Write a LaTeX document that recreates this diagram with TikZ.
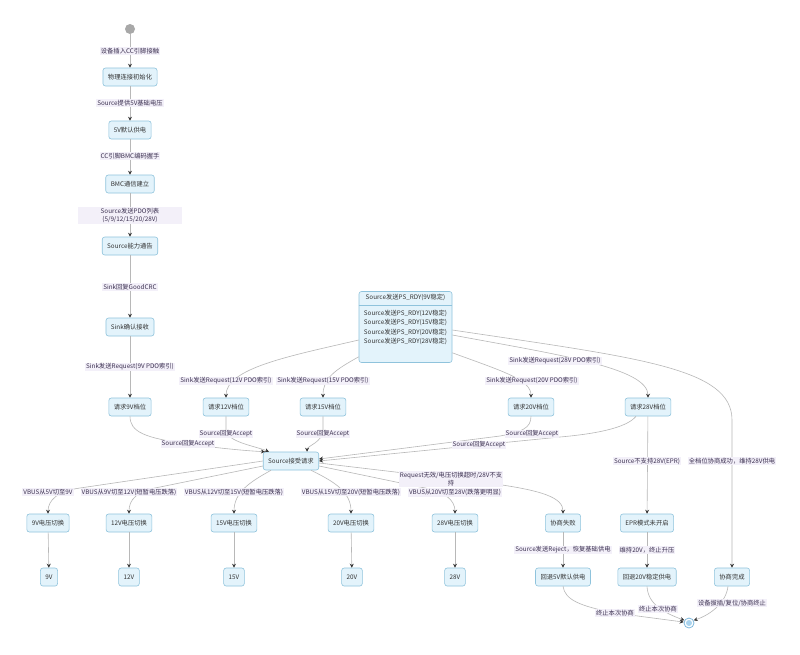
\documentclass[tikz,border=0pt]{standalone}
\usepackage{fontspec}
\setmainfont{Noto Sans CJK SC}
\usetikzlibrary{arrows.meta}
\definecolor{nodefill}{HTML}{E3F3FB}
\definecolor{nodeborder}{HTML}{8FC3DC}
\definecolor{textc}{HTML}{333333}
\definecolor{lblfill}{HTML}{F3F0F9}
\definecolor{lbltext}{HTML}{3B3050}
\definecolor{edgec}{HTML}{B8B8B8}
\definecolor{arrowc}{HTML}{333333}
\definecolor{startc}{HTML}{A8A8A8}
\definecolor{endborder}{HTML}{7DB8DC}
\definecolor{endfill}{HTML}{A9D3EE}
\begin{document}
\begin{tikzpicture}[x=1pt,y=-1pt,
  state/.style={draw=nodeborder, fill=nodefill, rounded corners=2.5pt, line width=0.6pt,
    minimum height=18pt, inner xsep=5pt, inner ysep=2pt, font=\fontsize{6.3}{7.5}\selectfont, text=textc},
  lbl/.style={fill=lblfill, inner sep=1pt, font=\fontsize{6.3}{8.5}\selectfont, text=lbltext, align=center},
  edge/.style={draw=edgec, line width=0.6pt, -{Stealth[length=4pt,width=4pt,color=arrowc]}},
]
\fill[white] (0,0) rectangle (800,654);
\useasboundingbox (0,0) rectangle (800,654);

% nodes
\node[circle, fill=startc, minimum size=10pt, inner sep=0pt] (start) at (130,29) {};
\node[state] (n1) at (130,77) {物理连接初始化};
\node[state] (n2) at (130,130) {5V默认供电};
\node[state] (n3) at (130,184) {BMC通信建立};
\node[state] (n4) at (130,246) {Source能力通告};
\node[state] (n5) at (130,327) {Sink确认接收};
\node[state] (r9) at (130,407) {请求9V档位};
\node[state] (r12) at (226,407) {请求12V档位};
\node[state] (r15) at (323,407) {请求15V档位};
\node[state] (r20) at (531,407) {请求20V档位};
\node[state] (r28) at (648,407) {请求28V档位};
\node[state, minimum width=93pt, minimum height=71pt] (ps) at (405.5,327) {};
\node[font=\fontsize{6.3}{7.5}\selectfont, text=textc] (psh) at (405.5,297) {Source发送PS\_RDY(9V稳定)};
\draw[nodeborder, line width=0.6pt] (ps.west |- 0,305) -- (ps.east |- 0,305);
\node[font=\fontsize{6.3}{9.2}\selectfont, text=textc, align=left] (psb) at (405.5,327.5)
  {Source发送PS\_RDY(12V稳定)\\Source发送PS\_RDY(15V稳定)\\Source发送PS\_RDY(20V稳定)\\Source发送PS\_RDY(28V稳定)};
\node[state] (acc) at (291,461) {Source接受请求};
\node[state] (s9) at (48,523) {9V电压切换};
\node[state] (s12) at (129,523) {12V电压切换};
\node[state] (s15) at (234,523) {15V电压切换};
\node[state] (s20) at (351,523) {20V电压切换};
\node[state] (s28) at (455,523) {28V电压切换};
\node[state] (fail) at (563,523) {协商失败};
\node[state] (epr) at (647,523) {EPR模式未开启};
\node[state] (v9) at (49,577) {9V};
\node[state] (v12) at (129,577) {12V};
\node[state] (v15) at (234,577) {15V};
\node[state] (v20) at (352,577) {20V};
\node[state] (v28) at (455,577) {28V};
\node[state] (fb5) at (563,577) {回退5V默认供电};
\node[state] (fb20) at (647,577) {回退20V稳定供电};
\node[state] (done) at (732,577) {协商完成};
\node[circle, draw=endborder, fill=white, line width=0.8pt, minimum size=10pt, inner sep=0pt] (end) at (689,623) {};
\fill[endfill] (end.center) circle (3pt);

% edges main column
\draw[edge] (start) -- (n1);
\draw[edge] (n1) -- (n2);
\draw[edge] (n2) -- (n3);
\draw[edge] (n3) -- (n4);
\draw[edge] (n4) -- (n5);
\draw[edge] (n5) -- (r9);

% into acc
\draw[edge] (r9.south) .. controls (130,432) and (145,438) .. (188,444) .. controls (225,449) and (250,451) .. ([xshift=2pt]acc.north west);
\draw[edge] (r12.south) -- (226,430) .. controls (227,442) and (255,446) .. ([xshift=6pt]acc.north west);
\draw[edge] (r15.south) -- (323,430) .. controls (323,442) and (307,446) .. ([xshift=-12pt]acc.north east);
\draw[edge] (r20.south) .. controls (531,428) and (522,432) .. (500,436) -- ([yshift=2pt]acc.east);
\draw[edge] ([xshift=-12pt]r28.south) .. controls (628,426) and (605,433) .. (560,437) -- (acc.east);

% from ps
\draw[edge] ([yshift=-13pt]ps.west) .. controls (290,356) and (226,368) .. (r12.north);
\draw[edge] ([yshift=6pt]ps.south west) .. controls (335,370) and (323,378) .. (r15.north);
\draw[edge] ([yshift=10pt]ps.south east) .. controls (505,372) and (531,380) .. (r20.north);
\draw[edge] ([yshift=-8pt]ps.east) .. controls (560,355) and (648,368) .. (r28.north);
\draw[edge] ([yshift=-3pt]ps.east) .. controls (640,358) and (732,368) .. (732,420) -- (done.north);

% from acc
\draw[edge] (acc.west) -- (80,488) .. controls (58,491) and (48,500) .. (s9.north);
\draw[edge] ([yshift=-5pt]acc.west) -- (160,487) .. controls (136,491) and (129,500) .. (s12.north);
\draw[edge] ([xshift=8pt]acc.south west) .. controls (250,482) and (234,492) .. (s15.north);
\draw[edge] ([xshift=-8pt]acc.south east) .. controls (335,482) and (351,492) .. (s20.north);
\draw[edge] ([yshift=-5pt]acc.east) -- (420,487) .. controls (445,491) and (455,500) .. (s28.north);
\draw[edge] ([yshift=-2pt]acc.east) -- (480,482) .. controls (545,490) and (563,498) .. (fail.north);

% verticals
\draw[edge] (r28) -- (epr);
\draw[edge] (s9) -- (v9);
\draw[edge] (s12) -- (v12);
\draw[edge] (s15) -- (v15);
\draw[edge] (s20) -- (v20);
\draw[edge] (s28) -- (v28);
\draw[edge] (fail) -- (fb5);
\draw[edge] (epr) -- (fb20);

% to end
\draw[edge] (fb5.south) .. controls (565,600) and (580,606) .. (615,613) -- (end.170);
\draw[edge] (fb20.south) .. controls (648,605) and (665,613) .. (end.150);
\draw[edge] ([xshift=-4pt]done.south) .. controls (726,603) and (710,615) .. (end.30);

% labels
\node[lbl] (l1) at (130,51) {设备插入CC引脚接触};
\node[lbl] (l2) at (130,103) {Source提供5V基础电压};
\node[lbl] (l3) at (130,156) {CC引脚BMC编码握手};
\node[lbl, minimum width=104pt, minimum height=17pt] (l4) at (130,215.5) {Source发送PDO列表\\(5/9/12/15/20/28V)};
\node[lbl] (l5) at (130,287) {Sink回复GoodCRC};
\node[lbl] (l6) at (130,367) {Sink发送Request(9V PDO索引)};
\node[lbl] (l7) at (226,381) {Sink发送Request(12V PDO索引)};
\node[lbl] (l8) at (323,381) {Sink发送Request(15V PDO索引)};
\node[lbl] (l9) at (532,381) {Sink发送Request(20V PDO索引)};
\node[lbl] (l10) at (555,361) {Sink发送Request(28V PDO索引)};
\node[lbl] (l11) at (188,444) {Source回复Accept};
\node[lbl] (l12) at (226,434) {Source回复Accept};
\node[lbl] (l13) at (323,434) {Source回复Accept};
\node[lbl] (l14) at (532,434) {Source回复Accept};
\node[lbl] (l15) at (479,445) {Source回复Accept};
\node[lbl] (l16) at (647,461) {Source不支持28V(EPR)};
\node[lbl] (l17) at (732,461) {全档位协商成功，维持28V供电};
\node[lbl] (l18) at (48,492) {VBUS从5V切至9V};
\node[lbl] (l19) at (129,492) {VBUS从9V切至12V(短暂电压跌落)};
\node[lbl] (l20) at (234,492) {VBUS从12V切至15V(短暂电压跌落)};
\node[lbl] (l21) at (351,492) {VBUS从15V切至20V(短暂电压跌落)};
\node[lbl, minimum width=103pt] (l22) at (451,479) {Request无效/电压切换超时/28V不支\\持};
\node[lbl] (l23) at (455,492.5) {VBUS从20V切至28V(跌落更明显)};
\node[lbl] (l24) at (563,550) {Source发送Reject，恢复基础供电};
\node[lbl] (l25) at (647,550) {维持20V，终止升压};
\node[lbl] (l26) at (615,613) {终止本次协商};
\node[lbl] (l27) at (658,609) {终止本次协商};
\node[lbl] (l28) at (732,603) {设备拔插/复位/协商终止};
\end{tikzpicture}
\end{document}
